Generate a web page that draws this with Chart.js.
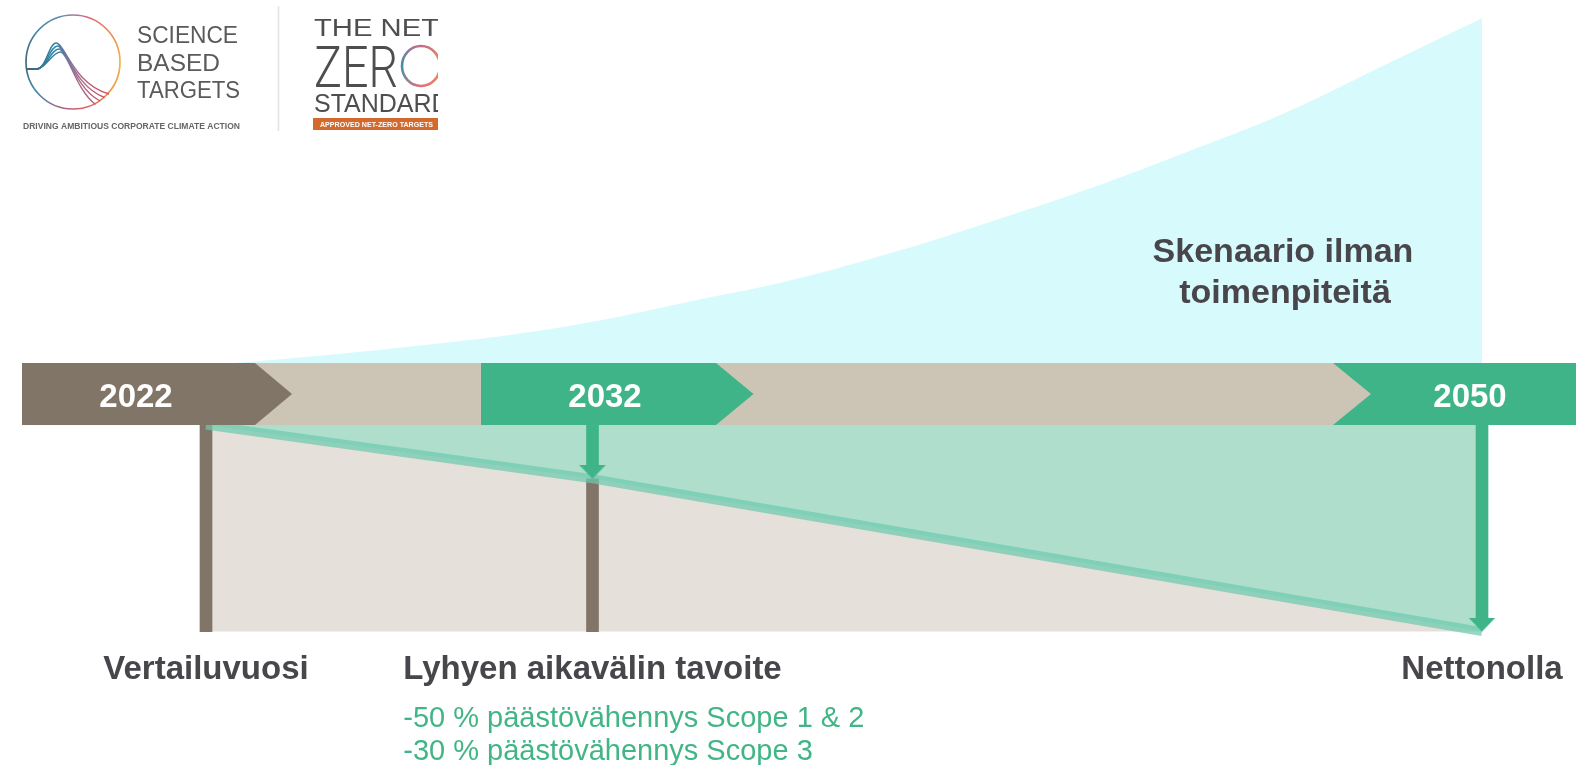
<!DOCTYPE html>
<html lang="fi">
<head>
<meta charset="utf-8">
<title>Science Based Targets – aikajana</title>
<script src="https://cdn.jsdelivr.net/npm/chart.js@4.4.1/dist/chart.umd.min.js"></script>
<style>
html,body{margin:0;padding:0;background:#fff;overflow:hidden;}
canvas{display:block;}
</style>
</head>
<body>
<canvas id="chart" width="1576" height="765"></canvas>
<script>
// ---------------- data ----------------
const milestoneYears  = [2022, 2032, 2050];
const milestoneLabels = ['2022', '2032', '2050'];
const milestoneTitles = ['Vertailuvuosi', 'Lyhyen aikavälin tavoite', 'Nettonolla'];
const targetNotes     = ['-50 % päästövähennys Scope 1 & 2', '-30 % päästövähennys Scope 3'];
const baselineValue   = 100;                 // index, base year = 100
const emissionPath    = [100, 74, 0];        // reduction path at the milestones
const scenarioYears   = [2022, 2024, 2026, 2028, 2030, 2032, 2034, 2036, 2038, 2040, 2042, 2044, 2046, 2048, 2050];
const scenarioValues  = [129, 132, 135.5, 139.5, 144, 150, 160, 170, 183, 198, 214, 232, 251, 274, 297];
const scenarioTitle   = ['Skenaario ilman', 'toimenpiteitä'];

// ---------------- styles ----------------
const COL = {
  brown: '#807567', band: '#CCC4B4', green: '#3FB488', lightGreen: '#AFDFCC',
  beige: '#E5E0D9', cyan: '#D7FAFD', strip: 'rgba(110,201,174,0.72)',
  text: '#48464B', note: '#42B587'
};
const FONT = '"Liberation Sans", Arial, Helvetica, sans-serif';

// The timeline in the infographic is schematic (not to scale): milestone years are
// placed at fixed fractions of the width and the scale interpolates between them.
const TIMELINE_FRACTIONS = [206 / 1576, 592.5 / 1576, 1482 / 1576];
function timelineDecimal(v) {
  const ys = milestoneYears, fs = TIMELINE_FRACTIONS;
  let i = 0;
  if (v >= ys[ys.length - 1]) i = ys.length - 2;
  else if (v > ys[0]) { while (v > ys[i + 1]) i++; }
  return fs[i] + (v - ys[i]) * (fs[i + 1] - fs[i]) / (ys[i + 1] - ys[i]);
}
class TimelineScale extends Chart.LinearScale {
  getPixelForValue(value) { return this.getPixelForDecimal(timelineDecimal(value)); }
}
TimelineScale.id = 'timeline';
Chart.register(TimelineScale);

// arrow head as a point style (tip at the centre of the canvas)
const head = document.createElement('canvas');
head.width = 28; head.height = 28;
(function () {
  const h = head.getContext('2d');
  h.fillStyle = COL.green;
  h.beginPath(); h.moveTo(0.5, 0); h.lineTo(27.5, 0); h.lineTo(14, 14); h.closePath(); h.fill();
})();
const HEAD_UNITS = 6.5;

const pathPoints = milestoneYears.map((x, i) => ({ x, y: emissionPath[i] }));
const scenarioPoints = scenarioYears.map((x, i) => ({ x, y: scenarioValues[i] }));
const barPoints = [
  { x: milestoneYears[0], y: [0, baselineValue] },
  { x: milestoneYears[1], y: [0, emissionPath[1]] },
  { x: milestoneYears[1], y: [emissionPath[1] + HEAD_UNITS, baselineValue] },
  { x: milestoneYears[2], y: [emissionPath[2] + HEAD_UNITS, baselineValue] }
];
const barColors = [COL.brown, COL.brown, COL.green, COL.green];
const headPoints = [
  { x: milestoneYears[1], y: emissionPath[1] },
  { x: milestoneYears[2], y: emissionPath[2] }
];

// ---------------- helpers ----------------
function poly(ctx, color, pts) {
  ctx.fillStyle = color;
  ctx.beginPath();
  pts.forEach((p, i) => i ? ctx.lineTo(p[0], p[1]) : ctx.moveTo(p[0], p[1]));
  ctx.closePath(); ctx.fill();
}
function fitText(ctx, text, x, y, width) {
  const w = ctx.measureText(text).width;
  ctx.save(); ctx.translate(x, y); ctx.scale(width / w, 1);
  ctx.fillText(text, 0, 0); ctx.restore();
}

function drawLogos(ctx) {
  ctx.save();
  ctx.textAlign = 'left'; ctx.textBaseline = 'alphabetic';
  // --- SBTi circle ---
  const cx = 73, cy = 62, r = 47;
  const cg = ctx.createConicGradient(0, cx, cy);
  cg.addColorStop(0.00, '#F2B543');
  cg.addColorStop(0.10, '#EE9747');
  cg.addColorStop(0.22, '#DC5F6E');
  cg.addColorStop(0.32, '#8A6B92');
  cg.addColorStop(0.40, '#3C8CB0');
  cg.addColorStop(0.50, '#4B6676');
  cg.addColorStop(0.62, '#3B88A8');
  cg.addColorStop(0.72, '#6E8DAA');
  cg.addColorStop(0.80, '#D9697E');
  cg.addColorStop(0.90, '#EB8E55');
  cg.addColorStop(1.00, '#F2B543');
  ctx.strokeStyle = cg; ctx.lineWidth = 1.7;
  ctx.beginPath(); ctx.arc(cx, cy, r, 0, Math.PI * 2); ctx.stroke();
  // waves
  const wg = ctx.createLinearGradient(30, 0, 110, 0);
  wg.addColorStop(0, '#3E6677'); wg.addColorStop(0.3, '#2E86A9');
  wg.addColorStop(0.6, '#A86A8C'); wg.addColorStop(1, '#D2505E');
  ctx.strokeStyle = wg; ctx.lineWidth = 1.4;
  for (let k = 0; k < 4; k++) {
    ctx.beginPath();
    ctx.moveTo(26.5, 69); ctx.lineTo(37, 69);
    ctx.bezierCurveTo(46, 68.5, 49 + k, 43 + k * 3, 56 + k * 1.5, 43 + k * 3);
    ctx.bezierCurveTo(65 + k, 43 + k * 3, 73 + k, 84 + k * 2, 109 - k * 4.5, 94 + k * 3.5);
    ctx.stroke();
  }
  // SBTi text
  ctx.fillStyle = '#5A5A5A';
  ctx.font = '23px ' + FONT;
  fitText(ctx, 'SCIENCE', 137, 43, 101);
  fitText(ctx, 'BASED', 137, 71, 83);
  fitText(ctx, 'TARGETS', 137, 98, 103);
  ctx.fillStyle = '#666666';
  ctx.font = 'bold 8.5px ' + FONT;
  fitText(ctx, 'DRIVING AMBITIOUS CORPORATE CLIMATE ACTION', 23, 129, 217);
  // divider
  ctx.strokeStyle = '#E2E2E2'; ctx.lineWidth = 1.5;
  ctx.beginPath(); ctx.moveTo(278.5, 6); ctx.lineTo(278.5, 131); ctx.stroke();

  // --- Net-Zero Standard logo (clipped at right) ---
  ctx.save();
  ctx.beginPath(); ctx.rect(290, 0, 148, 140); ctx.clip();
  ctx.fillStyle = '#4E4E4E';
  ctx.font = '23px ' + FONT;
  fitText(ctx, 'THE NET', 314, 36, 125);
  ctx.font = '300 58px Roboto, ' + FONT;
  fitText(ctx, 'ZER', 314, 87, 84);
  const og = ctx.createConicGradient(0, 421, 66);
  og.addColorStop(0, '#EE8C4E'); og.addColorStop(0.25, '#E2707A');
  og.addColorStop(0.5, '#3F8FB0'); og.addColorStop(0.75, '#C86A88'); og.addColorStop(1, '#EE8C4E');
  ctx.strokeStyle = og; ctx.lineWidth = 2.6;
  ctx.beginPath(); ctx.ellipse(421, 66, 19, 20, 0, 0, Math.PI * 2); ctx.stroke();
  ctx.fillStyle = '#4E4E4E';
  ctx.font = '25px ' + FONT;
  ctx.fillText('STANDARD', 314, 112);
  ctx.fillStyle = '#D4692D';
  ctx.fillRect(313, 118, 130, 12);
  ctx.fillStyle = '#FFFFFF';
  ctx.font = 'bold 8px ' + FONT;
  fitText(ctx, 'APPROVED NET-ZERO TARGETS', 320, 127, 113);
  ctx.restore();
  ctx.restore();
}

const decorPlugin = {
  id: 'timelineDecor',
  afterDatasetsDraw(chart) {
    const { ctx, scales: { x, y } } = chart;
    const W = chart.width;
    const yb = y.getPixelForValue(baselineValue);
    const h = 62, yt = yb - h, ym = yb - h / 2;
    const [p0, p1, p2] = milestoneYears.map(v => x.getPixelForValue(v));
    ctx.save();
    // band with chevrons
    ctx.fillStyle = COL.band; ctx.fillRect(22, yt, W - 22, h);
    poly(ctx, COL.brown, [[22, yt], [p0 + 49, yt], [p0 + 86, ym], [p0 + 49, yb], [22, yb]]);
    poly(ctx, COL.green, [[p1 - 111.5, yt], [p1 + 123.5, yt], [p1 + 161, ym], [p1 + 123.5, yb], [p1 - 111.5, yb]]);
    poly(ctx, COL.green, [[p2 - 149, yt], [W, yt], [W, yb], [p2 - 149, yb], [p2 - 111, ym]]);
    ctx.fillStyle = '#FFFFFF';
    ctx.font = 'bold 33px ' + FONT;
    ctx.textAlign = 'center'; ctx.textBaseline = 'alphabetic';
    const lx = [p0 - 70, p1 + 12.5, p2 - 12];
    milestoneLabels.forEach((t, i) => ctx.fillText(t, lx[i], yb - 18));

    // milestone titles
    ctx.fillStyle = COL.text;
    ctx.font = 'bold 33px ' + FONT;
    const px = [p0, p1, p2];
    milestoneTitles.forEach((t, i) => ctx.fillText(t, px[i], 679));
    // target notes, left-aligned with the short-term title
    const left = p1 - ctx.measureText(milestoneTitles[1]).width / 2;
    ctx.textAlign = 'left';
    ctx.fillStyle = COL.note;
    ctx.font = '29px ' + FONT;
    ctx.fillText(targetNotes[0], left, 727);
    ctx.fillText(targetNotes[1], left, 760);

    // scenario title
    ctx.textAlign = 'center';
    ctx.fillStyle = COL.text;
    ctx.font = 'bold 34px ' + FONT;
    ctx.fillText(scenarioTitle[0], 1283, 262);
    ctx.fillText(scenarioTitle[1], 1285, 303);

    drawLogos(ctx);
    ctx.restore();
  }
};

new Chart(document.getElementById('chart'), {
  type: 'line',
  data: {
    datasets: [
      { // business-as-usual scenario
        label: 'Skenaario ilman toimenpiteitä', data: scenarioPoints, order: 10,
        borderWidth: 0, borderColor: 'rgba(0,0,0,0)', pointRadius: 0,
        backgroundColor: COL.cyan, fill: { value: baselineValue },
        tension: 0.4
      },
      { // remaining emissions
        label: 'Päästöt', data: pathPoints, order: 9,
        borderWidth: 0, borderColor: 'rgba(0,0,0,0)', pointRadius: 0,
        backgroundColor: COL.beige, fill: { value: 0 }
      },
      { // reduction
        label: 'Vähennys', data: pathPoints, order: 8,
        borderWidth: 0, borderColor: 'rgba(0,0,0,0)', pointRadius: 0,
        backgroundColor: COL.lightGreen, fill: { value: baselineValue }
      },
      { // milestone bars and arrow shafts
        type: 'bar', label: 'Virstanpylväät', data: barPoints, order: 7,
        backgroundColor: barColors, borderWidth: 0, barThickness: 12
      },
      { // emission path line
        label: 'Päästöpolku', data: pathPoints, order: 6,
        borderColor: COL.strip, borderWidth: 9, pointRadius: 0, fill: false,
        borderCapStyle: 'butt'
      },
      { // arrow heads
        label: 'Nuolet', data: headPoints, order: 5, showLine: false,
        pointStyle: head, pointRadius: 10, pointHoverRadius: 10
      }
    ]
  },
  options: {
    responsive: false,
    animation: false,
    devicePixelRatio: 1,
    events: [],
    layout: { padding: 0, autoPadding: false },
    plugins: { legend: { display: false }, tooltip: { enabled: false } },
    scales: {
      x: { type: 'timeline', min: 2017, max: 2053, display: false, offset: false, grid: { display: false } },
      y: { type: 'linear', min: -64.6, max: 305.8, display: false, stacked: false, grid: { display: false } }
    }
  },
  plugins: [decorPlugin]
});
</script>
</body>
</html>
